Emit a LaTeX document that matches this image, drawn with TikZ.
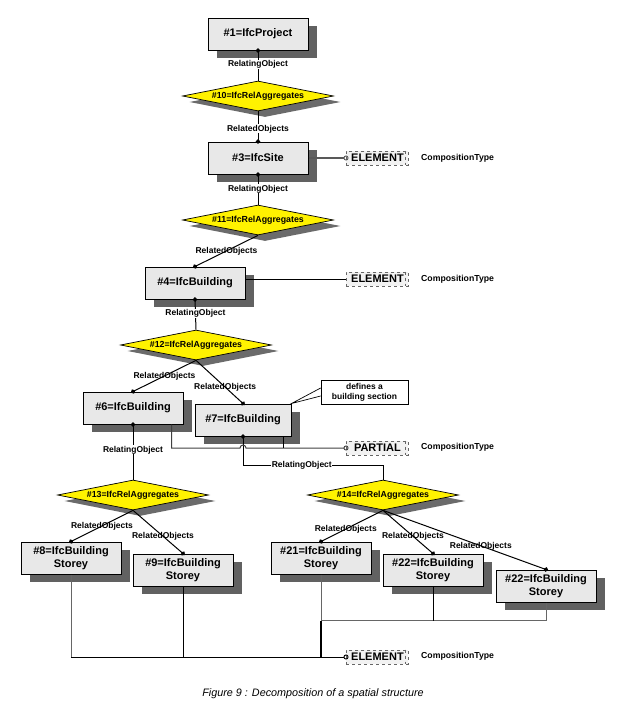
\documentclass[tikz,border=0pt]{standalone}
\usepackage{fontspec}
\setmainfont{Liberation Sans}
\usetikzlibrary{shapes.geometric,shadows,arrows.meta}

\begin{document}
\begin{tikzpicture}[
  x=1pt, y=-1pt,
  fig09box/.style = {draw, line width=1pt, fill=black!9, minimum width=100pt,
    minimum height=32pt, inner sep=1pt, align=center,
    font=\fontsize{11}{13}\selectfont\bfseries,
    drop shadow={shadow xshift=9pt, shadow yshift=-8pt, opacity=1, fill=black!62}},
  fig09rel/.style = {diamond, draw, line width=0.7pt, fill=yellow, aspect=5,
    inner sep=0pt, minimum width=151pt, minimum height=30pt,
    font=\fontsize{8.8}{10}\selectfont\bfseries,
    drop shadow={shadow xshift=7pt, shadow yshift=-6pt, opacity=1, fill=black!58}},
  fig09lbl/.style = {font=\fontsize{8.5}{10}\selectfont\bfseries, inner sep=0.5pt},
  fig09note/.style = {draw, line width=0.7pt, fill=white, minimum width=87pt,
    minimum height=24pt, inner sep=1pt, align=center,
    font=\fontsize{8.5}{10}\selectfont\bfseries},
  fig09enum/.style = {draw=black!60, dashed, fill=black!5, line width=0.9pt,
    minimum width=62pt, minimum height=14pt, inner sep=0pt, anchor=west,
    font=\fontsize{11}{12}\selectfont\bfseries},
  fig09type/.style = {anchor=west, inner sep=0pt, font=\fontsize{8.7}{10}\selectfont\bfseries},
  fig09link/.style = {line width=1pt},
  fig09dot/.style = {-{Circle[length=4.5pt]}, shorten >=-2.25pt},
  fig09src/.style = {{Circle[length=4.5pt]}-, shorten <=-2.25pt},
  fig09open/.style = {-{Circle[open, length=5pt, line width=0.9pt]}, shorten >=-2.5pt}
]
  \useasboundingbox (0,0) rectangle (640,710);
  % objects
  \node[fig09box] (proj)  at (258,34)  {\#1=IfcProject};
  \node[fig09rel] (rel10) at (258,96)  {\#10=IfcRelAggregates};
  \node[fig09box] (site)  at (258,158) {\#3=IfcSite};
  \node[fig09rel] (rel11) at (258,220) {\#11=IfcRelAggregates};
  \node[fig09box] (bldg4) at (195,283) {\#4=IfcBuilding};
  \node[fig09rel] (rel12) at (196,345) {\#12=IfcRelAggregates};
  \node[fig09box] (bldg6) at (133,408) {\#6=IfcBuilding};
  \node[fig09box, minimum width=96pt] (bldg7) at (243,420) {\#7=IfcBuilding};
  \node[fig09note] (note7) at (364.5,392) {defines a\\building section};
  \node[fig09rel] (rel13) at (133,495) {\#13=IfcRelAggregates};
  \node[fig09rel] (rel14) at (383,495) {\#14=IfcRelAggregates};
  \node[fig09box] (st8)   at (71,558)  {\#8=IfcBuilding\\Storey};
  \node[fig09box] (st9)   at (183,570) {\#9=IfcBuilding\\Storey};
  \node[fig09box] (st21)  at (321,558) {\#21=IfcBuilding\\Storey};
  \node[fig09box] (st22a) at (433,570) {\#22=IfcBuilding\\Storey};
  \node[fig09box] (st22b) at (546,586) {\#22=IfcBuilding\\Storey};
  % composition types
  \node[fig09enum] (enum3) at (346,158) {ELEMENT};
  \node[fig09enum] (enum4) at (346,279) {ELEMENT};
  \node[fig09enum] (enum7) at (346,448) {PARTIAL};
  \node[fig09enum] (enumS) at (346,657) {ELEMENT};
  \foreach \e in {enum3,enum4,enum7,enumS} {
    \draw[black!60, dashed, line width=0.6pt] ([xshift=-4pt]\e.north east) -- ([xshift=-4pt]\e.south east);
  }
  \node[fig09type] (type3) at (421,158) {CompositionType};
  \node[fig09type] (type4) at (421,279) {CompositionType};
  \node[fig09type] (type7) at (421,447) {CompositionType};
  \node[fig09type] (typeS) at (421,656) {CompositionType};
  % aggregation links
  \draw[fig09link, fig09src] (proj.south) -- node[fig09lbl, fill=white, pos=0.45] {RelatingObject} (rel10.north);
  \draw[fig09link, fig09dot] (rel10.south) -- node[fig09lbl, fill=white, pos=0.58] {RelatedObjects} (site.north);
  \draw[fig09link, fig09src] (site.south) -- node[fig09lbl, fill=white, pos=0.48] {RelatingObject} (rel11.north);
  \draw[fig09link, fig09dot] (rel11.south) -- node[fig09lbl] {RelatedObjects} (bldg4.north);
  \draw[fig09link, fig09src] (bldg4.south) -- node[fig09lbl, fill=white, pos=0.45] {RelatingObject} (rel12.north);
  \draw[fig09link, fig09dot] (rel12.south) -- node[fig09lbl] {RelatedObjects} (bldg6.north);
  \draw[fig09link, fig09dot] (rel12.south) -- node[fig09lbl, pos=0.62] {RelatedObjects} (bldg7.north);
  \draw[fig09link, fig09src] (bldg6.south) -- node[fig09lbl, fill=white, pos=0.46] {RelatingObject} (rel13.north);
  \draw[fig09link, fig09src] (bldg7.south) -- ++(0,29) -| node[fig09lbl, fill=white, pos=0.21] {RelatingObject} (rel14.north);
  \draw[fig09link, fig09dot] (rel13.south) -- node[fig09lbl] {RelatedObjects} (st8.north);
  \draw[fig09link, fig09dot] (rel13.south) -- node[fig09lbl, pos=0.6] {RelatedObjects} (st9.north);
  \draw[fig09link, fig09dot] (rel14.south) -- node[fig09lbl, pos=0.6] {RelatedObjects} (st21.north);
  \draw[fig09link, fig09dot] (rel14.south) -- node[fig09lbl, pos=0.6] {RelatedObjects} (st22a.north);
  \draw[fig09link, fig09dot] (rel14.south) -- node[fig09lbl, pos=0.6] {RelatedObjects} (st22b.north);
  % note
  \draw[line width=0.7pt] ([yshift=4pt]note7.west) -- (bldg7.north east) -- ([yshift=-4pt]note7.west);
  % composition links
  \draw[line width=1.1pt, black!65, fig09open] (site.east) -- (enum3.west);
  \draw[fig09link] (bldg4.east |- enum4.west) -- (enum4.west);
  \coordinate (p6) at ([xshift=-12pt]bldg6.south east);
  \coordinate (p7) at ([xshift=-8pt]bldg7.south east);
  \draw[fig09link, black!75, fig09open] (p6) -- (p6 |- enum7.west)
    -- ([xshift=-3pt]bldg7.south |- enum7.west) arc[start angle=180, end angle=0, radius=3pt]
    -- (enum7.west);
  \draw[fig09link] (p7) -- (p7 |- enum7.west);
  \coordinate (bus21) at ([yshift=-46pt]st21.south);
  \draw[fig09link, black!60] (st8.south) -- (st8.south |- enumS.west);
  \draw[fig09link, fig09open] (st8.south |- enumS.west) -- (enumS.west);
  \draw[fig09link] (st9.south) -- (st9.south |- enumS.west);
  \draw[fig09link, black!60] (st21.south) -- (bus21);
  \draw[line width=1.4pt] (bus21) -- (st21.south |- enumS.west);
  \draw[fig09link, black!60] (st22b.south) |- (bus21);
  \draw[fig09link] (st22a.south) -- (st22a.south |- bus21);
  % caption
  \node[font=\fontsize{10.8}{12}\selectfont\itshape] (caption) at (313,694) {Figure 9 : Decomposition of a spatial structure};
\end{tikzpicture}
\end{document}
